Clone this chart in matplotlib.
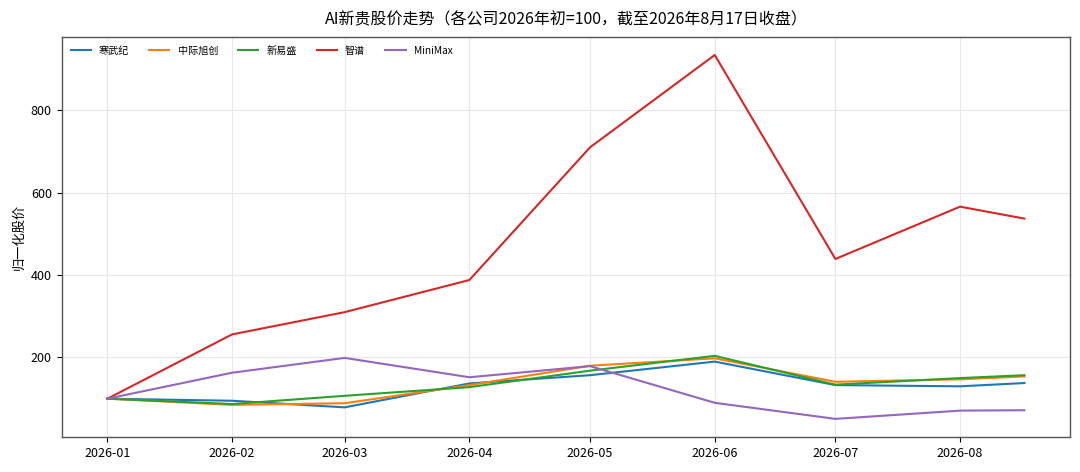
import matplotlib
matplotlib.use("Agg")
import matplotlib.pyplot as plt
import pandas as pd

plt.rcParams['font.family'] = ['Noto Sans CJK SC', 'DejaVu Sans']
plt.rcParams['axes.unicode_minus'] = False

dates = ["2026-01-01", "2026-02-01", "2026-03-01", "2026-04-01", "2026-05-01",
         "2026-06-01", "2026-07-01", "2026-08-01", "2026-08-17"]
names = ["寒武纪", "中际旭创", "新易盛", "智谱", "MiniMax"]
hanwuji = [100, 95, 79, 137, 157, 190, 133, 130, 138]
zhongji = [100, 85, 89, 133, 180, 198, 141, 147, 154]
xinyisheng = [100, 87, 107, 128, 168, 204, 134, 150, 157]
zhipu = [100, 256, 310, 388, 710, 934, 439, 566, 537]
minimax = [100, 163, 199, 152, 179, 90, 51, 71, 72]
series = [hanwuji, zhongji, xinyisheng, zhipu, minimax]
colors = ["#1f77b4", "#ff7f0e", "#2ca02c", "#d62728", "#9467bd"]
tick_labels = ["2026-01", "2026-02", "2026-03", "2026-04", "2026-05", "2026-06", "2026-07", "2026-08"]

x = pd.to_datetime(dates)

fig, ax = plt.subplots(figsize=(10.8, 4.72), dpi=100)
fig.subplots_adjust(left=0.057, right=0.991, top=0.922, bottom=0.074)

for name, vals, c in zip(names, series, colors):
    ax.plot(x, vals, color=c, lw=1.5, label=name)

ax.set_xticks(pd.to_datetime([t + "-01" for t in tick_labels]))
ax.set_xticklabels(tick_labels, fontsize=9)
ax.tick_params(axis='y', labelsize=9)
ax.set_yticks([200, 400, 600, 800])
ax.grid(True, color="#e8e8e8", lw=0.8)
for s in ax.spines.values():
    s.set_color("#555555")
    s.set_linewidth(1.0)
ax.set_ylabel("归一化股价", fontsize=9.5)
ax.set_title("AI新贵股价走势（各公司2026年初=100，截至2026年8月17日收盘）", fontsize=11.5, pad=9)
ax.legend(loc="upper left", ncol=5, frameon=False, fontsize=7.25)

fig.savefig("out.png", dpi=100)
